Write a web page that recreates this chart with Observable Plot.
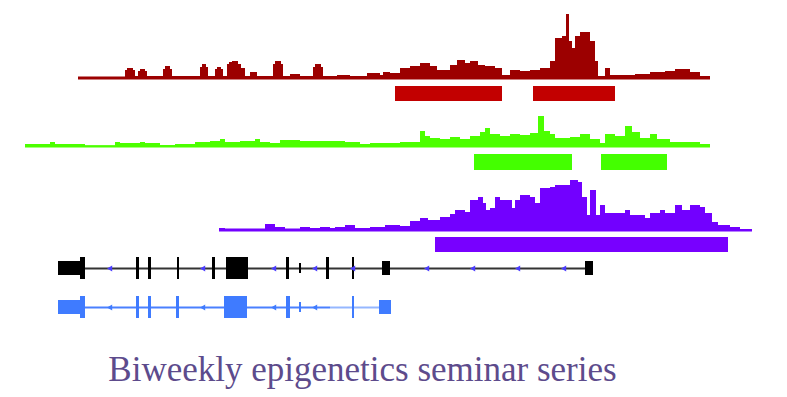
<!DOCTYPE html>
<html>
<head>
<meta charset="utf-8">
<script src="https://cdn.jsdelivr.net/npm/d3@7"></script>
<script src="https://cdn.jsdelivr.net/npm/@observablehq/plot@0.6"></script>
<style>
  html, body { margin: 0; padding: 0; background: #fff; }
  #chart svg { display: block; }
</style>
</head>
<body>
<div id="chart"></div>
<script>
// ---- data: [genomic position, signal height] ----
const redSignal = [[78,1.5],[125,8],[127,10],[133,8],[135,2],[138,7],[140,9],[145,7],[147,2],[163,9],[165,12],[170,9],[172,2],[200,11],[202,14],[206,11],[208,2],[215,9],[217,11],[221,9],[223,2],[227,14],[229,16],[232,17],[238,14],[241,10],[245,2],[250,6],[257,2],[273,14],[275,17],[281,14],[283,2],[290,4],[300,2],[313,11],[315,14],[321,11],[323,2],[337,3],[350,2],[367,5],[380,3],[383,6],[390,5],[400,10],[410,12],[420,15],[430,12],[437,8],[450,13],[457,18],[465,15],[470,17],[478,13],[485,12],[495,10],[502,3],[510,8],[520,7],[530,8],[540,10],[550,17],[555,40],[562,42],[566,64],[569,37],[572,30],[575,42],[580,46],[590,37],[595,17],[598,2],[605,10],[610,3],[635,4],[650,6],[665,7],[675,9],[690,6],[700,2],[710,2]];
const greenSignal = [[25,2],[50,4],[55,2],[85,0.8],[115,4],[120,3],[140,4],[145,3],[160,1],[175,2],[195,4],[210,5],[220,7],[225,4],[240,5],[255,7],[260,4],[270,3],[280,6],[300,5],[345,4],[360,2],[370,3],[400,4],[420,15],[425,10],[430,8],[440,7],[450,9],[460,7],[470,10],[480,14],[485,18],[490,12],[500,10],[510,12],[520,11],[530,13],[538,30],[544,15],[550,12],[555,8],[570,9],[580,12],[590,7],[600,3],[605,12],[615,10],[625,20],[632,14],[640,8],[650,12],[657,7],[670,4],[700,2],[710,2]];
const purpleSignal = [[219,2],[225,1.5],[265,6],[275,3],[285,1.5],[300,3],[310,2],[320,3],[330,2],[335,3],[345,5],[355,2],[370,3],[385,5],[400,4],[410,9],[420,12],[428,10],[440,13],[450,16],[455,20],[465,18],[470,30],[478,33],[483,27],[486,20],[490,22],[495,33],[500,30],[512,22],[515,30],[520,35],[530,33],[535,27],[540,42],[550,43],[555,45],[570,50],[578,48],[582,33],[587,15],[590,40],[596,15],[600,25],[605,17],[625,20],[630,15],[645,12],[650,17],[660,20],[665,17],[675,25],[682,20],[690,25],[700,23],[705,17],[712,8],[718,5],[730,3],[740,1],[752,1]];

// peak calls: [start, end]
const redPeaks = [[395,502],[533,615]];
const greenPeaks = [[474,572],[601,667]];
const purplePeaks = [[435,728]];

// gene models: [start, end, kind]
const geneAExons = [[58,80,"utr"],[80,85,"cds"],[136,139,"cds"],[148,151,"cds"],[177,179,"cds"],[212,215,"cds"],[226,248,"cds"],[286,289,"cds"],[299,301,"small"],[326,329,"cds"],[352,354,"cds"],[382,390,"utr"],[585,593,"utr"]];
const geneAStrand = [110,203,274,315,353,427,473,518,564];
const geneASpan = [60,592];
const geneBExons = [[58,80,"utr"],[80,85,"cds"],[136,139,"cds"],[148,151,"cds"],[176,179,"cds"],[224,247,"cds"],[286,290,"cds"],[299,301,"small"],[352,354,"cds"],[379,391,"utr"]];
const geneBStrand = [110,203,274,315];
const geneBSpan = [60,330];
const geneBTail = [330,385];

const caption = "Biweekly epigenetics seminar series";

// ---- layout / style ----
const tracks = [
  {signal: redSignal, peaks: redPeaks, base: 78, p1: 86, p2: 101, fill: "#9c0000", peakFill: "#c20000", x0: 78, x1: 710},
  {signal: greenSignal, peaks: greenPeaks, base: 146, p1: 154, p2: 170, fill: "#4cff00", peakFill: "#44ff00", x0: 25, x1: 710},
  {signal: purpleSignal, peaks: purplePeaks, base: 230, p1: 237, p2: 252, fill: "#7200ff", peakFill: "#7800ff", x0: 219, x1: 752}
];
const halfH = {cds: 11, utr: 7, small: 5};

function exonRows(exons, center) {
  return exons.map(([s, e, k]) => ({s, e, y1: center - halfH[k], y2: center + halfH[k]}));
}

const marks = [];
for (const t of tracks) {
  const rows = t.signal.map(([x, h]) => ({x, h}));
  marks.push(Plot.ruleY([t.base], {x1: t.x0, x2: t.x1, stroke: t.fill, strokeWidth: 2}));
  marks.push(Plot.areaY(rows, {x: "x", y1: t.base, y2: d => t.base - d.h, curve: "step-after", fill: t.fill}));
  marks.push(Plot.rect(t.peaks.map(([s, e]) => ({s, e})), {x1: "s", x2: "e", y1: t.p1, y2: t.p2, fill: t.peakFill}));
}

// gene A (black)
const yA = 268, yB = 307;
marks.push(Plot.ruleY([yA], {x1: geneASpan[0], x2: geneASpan[1], stroke: "#333", strokeWidth: 2}));
marks.push(Plot.rect(exonRows(geneAExons, yA), {x1: "s", x2: "e", y1: "y1", y2: "y2", fill: "#000"}));
marks.push(Plot.dot(geneAStrand, {x: d => d, y: yA, symbol: "triangle", rotate: -90, r: 2.2, fill: "#4a3cff"}));

// gene B (blue)
marks.push(Plot.ruleY([yB], {x1: geneBTail[0], x2: geneBTail[1], stroke: "#95b7ff", strokeWidth: 2}));
marks.push(Plot.ruleY([yB], {x1: geneBSpan[0], x2: geneBSpan[1], stroke: "#4a80ff", strokeWidth: 2}));
marks.push(Plot.rect(exonRows(geneBExons, yB), {x1: "s", x2: "e", y1: "y1", y2: "y2", fill: "#3f7bff"}));
marks.push(Plot.dot(geneBStrand, {x: d => d, y: yB, symbol: "triangle", rotate: -90, r: 2.2, fill: "#3f7bff"}));

// caption
marks.push(Plot.text([caption], {x: 362, y: 369, text: d => d, fontSize: 35, fontFamily: "Liberation Serif", fill: "#5d4b8c", textAnchor: "middle", lineAnchor: "middle"}));

const chart = Plot.plot({
  width: 787,
  height: 397,
  margin: 0,
  x: {domain: [0, 787], range: [0, 787], axis: null},
  y: {domain: [0, 397], range: [0, 397], axis: null},
  style: {background: "#fff"},
  marks
});
document.getElementById("chart").append(chart);
</script>
</body>
</html>
